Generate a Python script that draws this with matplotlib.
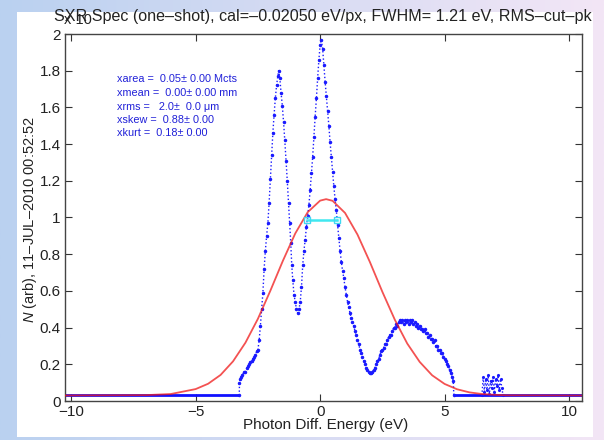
import numpy as np
import matplotlib
matplotlib.use("Agg")
import matplotlib.pyplot as plt
from matplotlib.patches import Rectangle
from matplotlib.transforms import Bbox, TransformedBbox

plt.rcParams['font.family'] = ['Liberation Sans', 'DejaVu Sans']
plt.rcParams['mathtext.fontset'] = 'custom'
plt.rcParams['mathtext.it'] = 'Liberation Sans:italic'
plt.rcParams['mathtext.rm'] = 'Liberation Sans'

# ---------------- data ----------------
spec_x = [-3.25, -3.24, -3.22, -3.18, -3.12, -3.06, -3.0, -2.95, -2.9, -2.85, -2.8, -2.75,
          -2.7, -2.65, -2.6, -2.55, -2.5, -2.45, -2.4, -2.35, -2.3, -2.25, -2.2, -2.15, -2.1,
          -2.05, -2.0, -1.95, -1.9, -1.85, -1.8, -1.75, -1.7, -1.67, -1.62, -1.57, -1.52,
          -1.47, -1.42, -1.37, -1.32, -1.27, -1.22, -1.18, -1.14, -1.1, -1.05, -1.0, -0.95,
          -0.9, -0.85, -0.8, -0.75, -0.7, -0.65, -0.6, -0.55, -0.5, -0.45, -0.4, -0.35, -0.3,
          -0.25, -0.2, -0.15, -0.1, -0.05, 0.0, 0.04, 0.1, 0.15, 0.2, 0.25, 0.3, 0.35, 0.4,
          0.45, 0.5, 0.55, 0.6, 0.65, 0.7, 0.75, 0.8, 0.85, 0.9, 0.95, 1.0, 1.05, 1.1, 1.15,
          1.2, 1.25, 1.3, 1.35, 1.4, 1.45, 1.5, 1.55, 1.6, 1.65, 1.7, 1.75, 1.8, 1.85, 1.9,
          1.95, 2.0, 2.05, 2.1, 2.15, 2.2, 2.25, 2.3, 2.35, 2.4, 2.45, 2.5, 2.55, 2.6, 2.65,
          2.7, 2.75, 2.8, 2.85, 2.9, 2.95, 3.0, 3.05, 3.1, 3.15, 3.2, 3.25, 3.3, 3.35, 3.4,
          3.45, 3.5, 3.55, 3.6, 3.65, 3.7, 3.75, 3.8, 3.85, 3.9, 3.95, 4.0, 4.05, 4.1, 4.15,
          4.2, 4.25, 4.3, 4.35, 4.4, 4.45, 4.5, 4.55, 4.6, 4.65, 4.7, 4.75, 4.8, 4.85, 4.9,
          4.95, 5.0, 5.05, 5.1, 5.15, 5.2, 5.25, 5.3, 5.35, 5.37]
spec_y = [0.03, 0.10, 0.12, 0.13, 0.14, 0.16, 0.16, 0.18, 0.19, 0.20, 0.21, 0.22,
          0.23, 0.24, 0.25, 0.27, 0.28, 0.33, 0.41, 0.50, 0.59, 0.72, 0.82, 0.90, 0.97,
          1.08, 1.21, 1.34, 1.46, 1.56, 1.65, 1.72, 1.77, 1.80, 1.76, 1.68, 1.61,
          1.52, 1.42, 1.31, 1.20, 1.08, 0.97, 0.86, 0.74, 0.66, 0.58, 0.54, 0.50,
          0.48, 0.50, 0.54, 0.62, 0.74, 0.82, 0.88, 0.95, 1.01, 1.07, 1.15, 1.24, 1.33,
          1.44, 1.55, 1.65, 1.76, 1.86, 1.94, 1.97, 1.92, 1.83, 1.74, 1.66, 1.58, 1.50, 1.41,
          1.33, 1.25, 1.17, 1.10, 1.04, 0.96, 0.89, 0.82, 0.76, 0.71, 0.67, 0.62, 0.58, 0.54, 0.51,
          0.48, 0.45, 0.43, 0.41, 0.38, 0.36, 0.33, 0.31, 0.28, 0.26, 0.24, 0.22, 0.20, 0.18, 0.17,
          0.16, 0.155, 0.15, 0.16, 0.17, 0.18, 0.20, 0.22, 0.23, 0.25, 0.27, 0.28, 0.29, 0.31, 0.31,
          0.33, 0.35, 0.36, 0.36, 0.38, 0.40, 0.40, 0.42, 0.41, 0.43, 0.44, 0.43, 0.44, 0.42, 0.44,
          0.43, 0.44, 0.42, 0.44, 0.43, 0.44, 0.42, 0.43, 0.41, 0.42, 0.40, 0.41, 0.39, 0.39, 0.38,
          0.39, 0.37, 0.37, 0.35, 0.36, 0.34, 0.34, 0.32, 0.33, 0.30, 0.30, 0.28, 0.28, 0.26, 0.26,
          0.24, 0.23, 0.22, 0.20, 0.19, 0.17, 0.15, 0.13, 0.11, 0.03]

noise_x = [6.5, 6.55, 6.6, 6.65, 6.7, 6.75, 6.8, 6.85, 6.9, 6.95, 7.0, 7.05, 7.1,
           7.15, 7.2, 7.25, 7.3, 7.35]
noise_y = [0.03, 0.13, 0.05, 0.12, 0.06, 0.14, 0.04, 0.11, 0.07, 0.13, 0.05, 0.12, 0.08,
           0.14, 0.06, 0.12, 0.07, 0.03]

base_left_x = [-10.25, -3.25]
base_right_x = [5.37, 10.52]
base_y = [0.03, 0.03]

fit_x = [-10.25, -7.0, -6.0, -5.0, -4.5, -4.0, -3.5, -3.0, -2.5, -2.0, -1.5, -1.0, -0.5,
         0.0, 0.24, 0.5, 1.0, 1.5, 2.0, 2.5, 3.0, 3.5, 4.0, 4.5, 5.0, 5.5, 6.0, 6.5,
         7.0, 7.5, 10.52]
fit_y = [0.030, 0.032, 0.038, 0.065, 0.094, 0.142, 0.216, 0.318, 0.448, 0.601, 0.763, 0.913,
         1.029, 1.092, 1.100, 1.091, 1.025, 0.907, 0.757, 0.595, 0.443, 0.313, 0.213, 0.140,
         0.093, 0.064, 0.047, 0.038, 0.034, 0.031, 0.030]

fwhm_x = [-0.52, 0.68]
fwhm_y = [0.985, 0.985]

x_ticks = [-10, -5, 0, 5, 10]
y_ticks = [0, 0.2, 0.4, 0.6, 0.8, 1.0, 1.2, 1.4, 1.6, 1.8, 2.0]
y_ticklabels = ['0', '0.2', '0.4', '0.6', '0.8', '1', '1.2', '1.4', '1.6', '1.8', '2']

stats_lines = ["xarea =  0.05\u00b1 0.00 Mcts",
               "xmean =  0.00\u00b1 0.00 mm",
               "xrms =   2.0\u00b1  0.0 \u03bcm",
               "xskew =  0.88\u00b1 0.00",
               "xkurt =  0.18\u00b1 0.00"]

title = "SXR Spec (one\u2013shot), cal=\u20130.02050 eV/px, FWHM= 1.21 eV, RMS\u2013cut\u2013pk"

# ---------------- figure ----------------
W, H = 604, 440
fig = plt.figure(figsize=(W / 100, H / 100), dpi=100)

bg = fig.add_axes([0, 0, 1, 1], zorder=-10)
c0 = np.array([186, 209, 240]) / 255
c1 = np.array([243, 230, 246]) / 255
t = np.linspace(0, 1, 256)[None, :, None]
grad = c0[None, None, :] * (1 - t) + c1[None, None, :] * t
bg.imshow(grad, extent=[0, W, 0, H], aspect='auto')
bg.add_patch(Rectangle((17, H - 437), 593 - 17, 437 - 11.5, facecolor='white', edgecolor='none'))
bg.set_xlim(0, W)
bg.set_ylim(0, H)
bg.axis('off')

L, R, T, B = 65, 582, 34, 401
ax = fig.add_axes([L / W, (H - B) / H, (R - L) / W, (B - T) / H])
ax.set_facecolor('white')

ax.plot(base_left_x, base_y, color='#1010ff', lw=2.0, zorder=2, solid_capstyle='butt')
ax.plot(base_right_x, base_y, color='#1010ff', lw=2.0, zorder=2, solid_capstyle='butt')
ax.plot(spec_x, spec_y, color='#1a1aff', ls=':', lw=1.0, marker='.', ms=3.0, zorder=3)
ax.plot(noise_x, noise_y, color='#1a1aff', ls=':', lw=1.0, marker='.', ms=2.5, zorder=3)
ax.plot(fit_x, fit_y, color='#f01818', lw=1.3, alpha=0.75, zorder=4)
ax.plot(fwhm_x, fwhm_y, color='#40e8f0', lw=1.8, marker='s', ms=4.5, mfc='none',
        mec='#40d8f0', mew=1.0, zorder=5)

ax.set_xlim(-10.25, 10.52)
ax.set_ylim(0, 2)
ax.set_xticks(x_ticks)
ax.set_yticks(y_ticks)
ax.set_yticklabels(y_ticklabels)
ax.tick_params(direction='in', top=True, right=True, length=5, width=0.8,
               colors='#333333', labelcolor='#222222', labelsize=11, pad=3)
for s in ax.spines.values():
    s.set_color('#444444')
    s.set_linewidth(1.0)

fig.text(326 / W, 1 - 425 / H, "Photon Diff. Energy (eV)", fontsize=11,
         ha='center', va='center', color='#222222')
fig.text(30 / W, 1 - 220 / H, "$N$ (arb), 11\u2013JUL\u20132010 00:52:52", fontsize=10.5,
         rotation=90, ha='center', va='center', color='#222222')

ttl = fig.text(54 / W, 1 - 17 / H, title, fontsize=11.6, ha='left', va='center', color='#222222')
ttl.set_clip_on(True)
ttl.set_clip_box(TransformedBbox(Bbox([[0, 0], [593 / W, 1]]), fig.transFigure))

fig.text(64 / W, 1 - 24 / H, "x 10", fontsize=10.5, ha='left', va='baseline', color='#222222')

for i, line in enumerate(stats_lines):
    yc = [79.3, 93.3, 106.7, 120.0, 132.7][i]
    fig.text(117 / W, 1 - yc / H, line, fontsize=7.8, ha='left', va='center', color='#2020d8')

fig.savefig("out.png", dpi=100)
